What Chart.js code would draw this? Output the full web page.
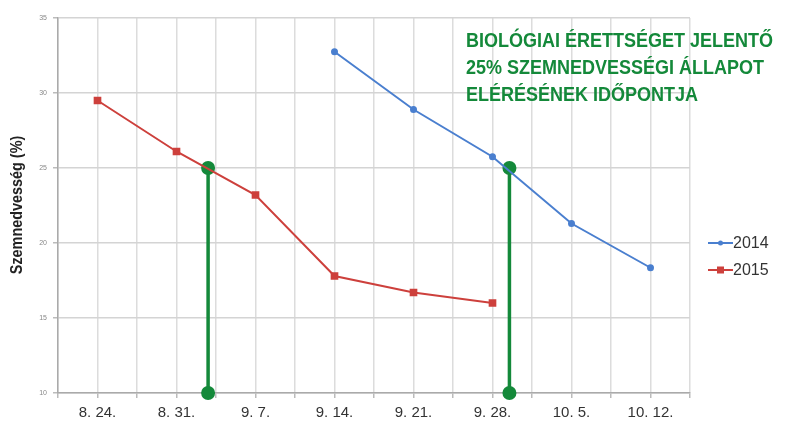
<!DOCTYPE html>
<html>
<head>
<meta charset="utf-8">
<script src="https://cdn.jsdelivr.net/npm/chart.js@4.4.1/dist/chart.umd.min.js"></script>
<style>
  html, body { margin: 0; padding: 0; background: #fff; }
  #wrap { width: 786px; height: 434px; position: relative; }
</style>
</head>
<body>
<div id="wrap"><canvas id="myChart" width="786" height="434"></canvas></div>
<script>
// x values are days after 8.24.
var tickLabels = ["8. 24.", "8. 31.", "9. 7.", "9. 14.", "9. 21.", "9. 28.", "10. 5.", "10. 12."];

var days2015 = [0, 7, 14, 21, 28, 35];
var values2015 = [29.5, 26.1, 23.2, 17.8, 16.7, 16.0];

var days2014 = [21, 28, 35, 42, 49];
var values2014 = [32.75, 28.9, 25.75, 21.3, 18.35];

// 25% crossing dates (days after 8.24.)
var markerDays = [9.8, 36.5];
var markerTop = 25;
var markerBottom = 10;

var noteLines = ["BIOLÓGIAI ÉRETTSÉGET JELENTŐ", "25% SZEMNEDVESSÉGI ÁLLAPOT", "ELÉRÉSÉNEK IDŐPONTJA"];

function toPoints(xs, ys) {
    return xs.map(function (x, i) { return { x: x, y: ys[i] }; });
}

var green = "#14893a";

var datasets = [
    {
        label: "2014",
        data: toPoints(days2014, values2014),
        borderColor: "#4a7fcf",
        backgroundColor: "#4a7fcf",
        borderWidth: 2,
        pointStyle: "circle",
        pointRadius: 2.5,
        pointHoverRadius: 2.5
    },
    {
        label: "2015",
        data: toPoints(days2015, values2015),
        borderColor: "#cd403c",
        backgroundColor: "#cd403c",
        borderWidth: 2,
        pointStyle: "rect",
        pointRadius: 4,
        pointHoverRadius: 4
    }
];

markerDays.forEach(function (d) {
    datasets.push({
        label: "",
        isMarker: true,
        data: [{ x: d, y: markerTop }, { x: d, y: markerBottom }],
        borderColor: green,
        backgroundColor: green,
        borderWidth: 3.5,
        pointBorderWidth: 0,
        pointRadius: 7,
        pointHoverRadius: 7,
        clip: false
    });
});

var extras = {
    id: "extras",
    afterDraw: function (chart) {
        var ctx = chart.ctx;
        ctx.save();
        // note text (condensed)
        ctx.fillStyle = green;
        ctx.font = "bold 20px 'Liberation Sans', sans-serif";
        ctx.textBaseline = "middle";
        ctx.textAlign = "left";
        noteLines.forEach(function (t, i) {
            ctx.save();
            ctx.translate(466, 41 + i * 27);
            ctx.scale(0.9, 1);
            ctx.fillText(t, 0, 0);
            ctx.restore();
        });
        // y title (condensed)
        ctx.save();
        ctx.translate(18, 205);
        ctx.rotate(-Math.PI / 2);
        ctx.scale(0.9, 1);
        ctx.fillStyle = "#222";
        ctx.font = "bold 16px 'Liberation Sans', sans-serif";
        ctx.textAlign = "center";
        ctx.fillText("Szemnedvesség (%)", 0, 0);
        ctx.restore();
        // legend
        var y0 = 243;
        chart.data.datasets.forEach(function (ds, i) {
            if (ds.isMarker) return;
            var y = y0 + i * 27;
            ctx.strokeStyle = ds.borderColor;
            ctx.fillStyle = ds.backgroundColor;
            ctx.lineWidth = 2;
            ctx.beginPath();
            ctx.moveTo(708, y);
            ctx.lineTo(733, y);
            ctx.stroke();
            if (ds.pointStyle === "rect") {
                ctx.fillRect(717, y - 3.5, 7, 7);
            } else {
                ctx.beginPath();
                ctx.arc(720.5, y, 2.5, 0, 2 * Math.PI);
                ctx.fill();
            }
            ctx.fillStyle = "#333";
            ctx.font = "16px 'Liberation Sans', sans-serif";
            ctx.textAlign = "left";
            ctx.fillText(ds.label, 733, y + 1);
        });
        ctx.restore();
    }
};

var chart = new Chart(document.getElementById("myChart").getContext("2d"), {
    type: "line",
    data: { datasets: datasets },
    options: {
        responsive: false,
        animation: false,
        layout: { padding: { left: 0, top: 18, right: 96, bottom: 0 } },
        plugins: {
            legend: { display: false },
            tooltip: { enabled: false }
        },
        scales: {
            x: {
                type: "linear",
                min: -3.5,
                max: 52.5,
                afterFit: function (scale) { scale.height = 41; },
                afterBuildTicks: function (scale) {
                    var t = [];
                    for (var v = -3.5; v <= 52.5 + 0.01; v += 3.5) t.push({ value: v });
                    scale.ticks = t;
                },
                ticks: {
                    autoSkip: false,
                    maxRotation: 0,
                    padding: 6,
                    color: "#333",
                    font: { family: "'Liberation Sans', sans-serif", size: 15 },
                    callback: function (v) {
                        var k = v / 7;
                        if (Math.abs(k - Math.round(k)) < 0.01 && k >= 0 && k < tickLabels.length) return tickLabels[Math.round(k)];
                        return "";
                    }
                },
                grid: { color: "#dcdcdc", lineWidth: 1.5, tickLength: 5, tickColor: "#bbb" },
                border: { color: "#aaa", width: 1.5 }
            },
            y: {
                min: 10,
                max: 35,
                afterFit: function (scale) { scale.width = 58; },
                ticks: {
                    stepSize: 5,
                    padding: 6,
                    color: "#888",
                    font: { family: "'Liberation Sans', sans-serif", size: 7 }
                },
                grid: { color: "#d4d4d4", lineWidth: 1.5, tickLength: 5, tickColor: "#bbb" },
                border: { color: "#aaa", width: 1.5 }
            }
        }
    },
    plugins: [extras]
});
</script>
</body>
</html>
